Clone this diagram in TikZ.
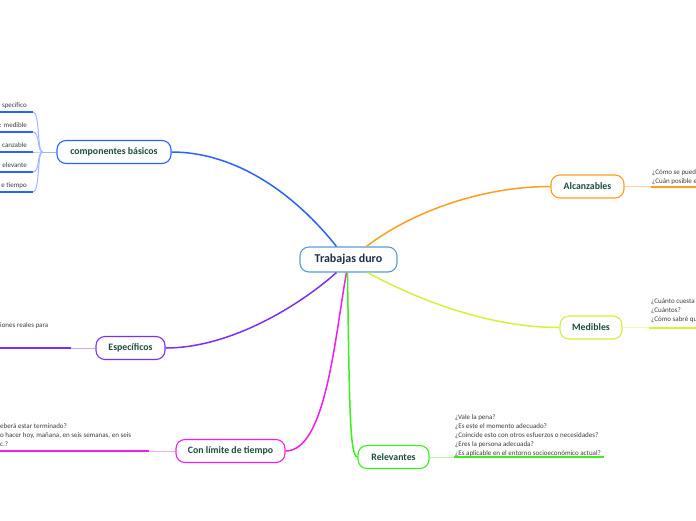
\documentclass[tikz,border=0pt]{standalone}
\usepackage{fontspec}
\setmainfont{Carlito}
\usetikzlibrary{calc}
\definecolor{MapRoot}{HTML}{5B9BD5}
\definecolor{MapRootText}{HTML}{1F2D4D}
\definecolor{MapText}{HTML}{1B4D3E}
\definecolor{MapNote}{HTML}{3C3C3C}
\definecolor{MapBlue}{HTML}{2962FF}
\definecolor{MapBlueLt}{HTML}{9DB8FF}
\definecolor{MapPurple}{HTML}{7B2FF7}
\definecolor{MapPurpleLt}{HTML}{C7A8FB}
\definecolor{MapMagenta}{HTML}{F01EF0}
\definecolor{MapMagentaLt}{HTML}{F9A8F9}
\definecolor{MapGreen}{HTML}{3CF01C}
\definecolor{MapGreenLt}{HTML}{B5F8A8}
\definecolor{MapLime}{HTML}{D2F23C}
\definecolor{MapLimeLt}{HTML}{EEFAB0}
\definecolor{MapOrange}{HTML}{FF9D1F}
\definecolor{MapOrangeLt}{HTML}{FFD39C}
\begin{document}
\begin{tikzpicture}[x=1pt,y=-1pt,
    topic/.style={draw=#1,line width=1.1pt,fill=white,rounded corners=9pt,
      minimum height=23pt,inner xsep=0pt,text=MapText,
      font=\bfseries\fontsize{9.8}{11}\selectfont},
    branch/.style={draw=#1,line width=1.5pt},
    stem/.style={draw=#1,line width=1pt},
    bar/.style={draw=#1,line width=2pt},
    note/.style={inner sep=0pt,text=MapNote,align=left,
      font=\fontsize{7}{9}\selectfont}]
        \useasboundingbox (0,0) rectangle (696,520);
        \clip (0,0) rectangle (696,520);

        % topics
        \node[topic=MapRoot,text=MapRootText,minimum width=97pt,
          minimum height=25pt,font=\bfseries\fontsize{12}{14}\selectfont]
          (root) at (348.5,259.5) {Trabajas duro};
        \node[topic=MapBlue,minimum width=114pt] (comp) at (114,152) {componentes básicos};
        \node[topic=MapPurple,minimum width=69pt] (espe) at (130.5,348) {Específicos};
        \node[topic=MapMagenta,minimum width=109pt] (limi) at (230.5,451) {Con límite de tiempo};
        \node[topic=MapGreen,minimum width=71pt] (rele) at (393.5,457) {Relevantes};
        \node[topic=MapLime,minimum width=62pt] (medi) at (591,327.5) {Medibles};
        \node[topic=MapOrange,minimum width=73pt] (alca) at (587.5,186.5) {Alcanzables};

        % branches from the root
        \draw[branch=MapBlue] ($(root.north west)+(37,0)$)
          .. controls +(-42,-53) and +(64,0) .. (comp.east);
        \draw[branch=MapOrange] ($(root.north west)+(67,0)$)
          .. controls +(43,-33) and +(-71,0) .. (alca.west);
        \draw[branch=MapLime] ($(root.south west)+(68,0)$)
          .. controls +(52,28) and +(-70,0) .. (medi.west);
        \draw[branch=MapPurple] ($(root.south west)+(37,0)$)
          .. controls +(-37,33) and +(65,0) .. (espe.east);
        \draw[branch=MapMagenta] ($(root.south west)+(47,0)$)
          .. controls +(-12,68) and +(40,0) .. (limi.east);
        \draw[branch=MapGreen] ($(root.south west)+(48,0)$)
          .. controls +(2,128) and +(-8,0) .. (rele.west);

        % componentes basicos
        \coordinate (compJ) at ($(comp.west)+(-14,0)$);
        \draw[stem=MapBlueLt] (comp.west) -- (compJ);
        \foreach \y/\txt in {112/specífico,132/{: medible},152/canzable,
          172/elevante,192/{e tiempo}}{
          \coordinate (compleaf\y) at (33,\y);
          \draw[stem=MapBlueLt] (compJ) .. controls (37,152) and (40,\y) .. (compleaf\y);
          \draw[bar=MapBlue] (compleaf\y) -- (0,\y);
          \node[note,anchor=base east] (compnote\y) at (27,\y-5) {\txt};
        }

        % especificos
        \coordinate (espeleaf) at ($(espe.west)+(-24,0)$);
        \draw[stem=MapPurpleLt] (espe.west) -- (espeleaf);
        \draw[bar=MapPurple] (espeleaf) -- ++(-72,0);
        \node[note,anchor=base west] (espenote) at (0,327.5) {iones reales para};

        % con limite de tiempo
        \coordinate (limileaf) at ($(limi.west)+(-26,0)$);
        \draw[stem=MapMagentaLt] (limi.west) -- (limileaf);
        \draw[bar=MapMagenta] (limileaf) -- ++(-150,0);
        \node[note,anchor=north west] (liminote) at (0,423.5)
          {eberá estar terminado?\\o hacer hoy, mañana, en seis semanas, en seis\\c.?};

        % relevantes
        \coordinate (releleaf) at ($(rele.east)+(24,0)$);
        \draw[stem=MapGreenLt] (rele.east) -- (releleaf);
        \draw[bar=MapGreen] (releleaf) -- ++(150,0);
        \node[note,anchor=north west] (relenote) at (455,414.5)
          {¿Vale la pena?\\¿Es este el momento adecuado?\\¿Coincide esto con otros esfuerzos o necesidades?\\¿Eres la persona adecuada?\\¿Es aplicable en el entorno socioeconómico actual?};

        % alcanzables
        \coordinate (alcaleaf) at ($(alca.east)+(26,0)$);
        \draw[stem=MapOrangeLt] (alca.east) -- (alcaleaf);
        \draw[bar=MapOrange] (alcaleaf) -- ++(50,0);
        \node[note,anchor=north west] (alcanote) at (652,169)
          {¿Cómo se pued\\¿Cuán posible e};

        % medibles
        \coordinate (medileaf) at ($(medi.east)+(26,0)$);
        \draw[stem=MapLimeLt] (medi.east) -- (medileaf);
        \draw[bar=MapLime] (medileaf) -- ++(50,0);
        \node[note,anchor=north west] (medinote) at (651,299)
          {¿Cuánto cuesta\\¿Cuántos?\\¿Cómo sabré qu};
      \end{tikzpicture}
\end{document}
